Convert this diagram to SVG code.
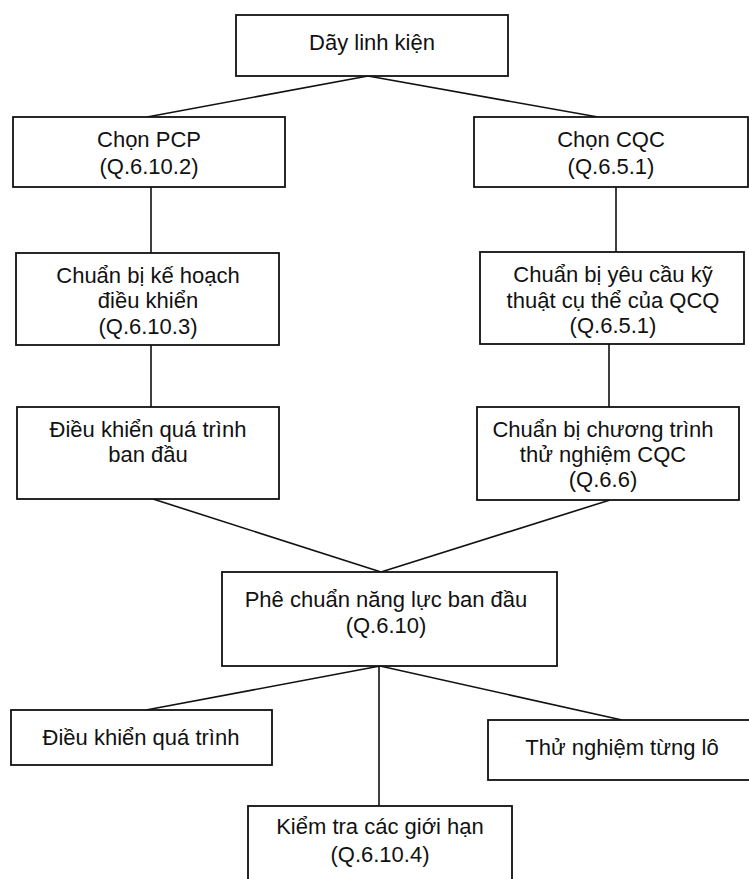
<svg xmlns="http://www.w3.org/2000/svg" width="749" height="879" viewBox="0 0 749 879">
<style>
.box{fill:#fff;stroke:#111;stroke-width:1.8}
.t{font-family:"Liberation Sans",Arial,sans-serif;font-size:22px;fill:#111;text-anchor:middle}
.c{stroke:#111;stroke-width:1.6;fill:none}
</style>
<rect width="749" height="879" fill="#fff"/>
<g id="connectors">
<path class="c" d="M368 76L147 117M368 76L598 117"/>
<path class="c" d="M151 187V253M151 345V407"/>
<path class="c" d="M616 187V252M609 344V407"/>
<path class="c" d="M153 499L381 572M610 500L381 572"/>
<path class="c" d="M380 666L146 710M380 666L622 720M379 666V806"/>
</g>
<g id="n1"><rect class="box" x="236" y="15" width="272" height="61"/><text class="t" x="372" y="50">Dãy linh kiện</text></g>
<g id="n2"><rect class="box" x="13" y="117" width="272" height="70"/><text class="t" x="149" y="147">Chọn PCP</text><text class="t" x="149" y="174">(Q.6.10.2)</text></g>
<g id="n3"><rect class="box" x="474" y="117" width="274" height="70"/><text class="t" x="611" y="147">Chọn CQC</text><text class="t" x="611" y="174">(Q.6.5.1)</text></g>
<g id="n4"><rect class="box" x="16" y="253" width="263" height="92"/><text class="t" x="148" y="283">Chuẩn bị kế hoạch</text><text class="t" x="148" y="308">điều khiển</text><text class="t" x="148" y="334">(Q.6.10.3)</text></g>
<g id="n5"><rect class="box" x="480" y="252" width="264" height="92"/><text class="t" x="613" y="282">Chuẩn bị yêu cầu kỹ</text><text class="t" x="613" y="308">thuật cụ thể của QCQ</text><text class="t" x="613" y="333">(Q.6.5.1)</text></g>
<g id="n6"><rect class="box" x="17" y="407" width="262" height="92"/><text class="t" x="148" y="437">Điều khiển quá trình</text><text class="t" x="148" y="462">ban đầu</text></g>
<g id="n7"><rect class="box" x="477" y="407" width="262" height="93"/><text class="t" x="603" y="437">Chuẩn bị chương trình</text><text class="t" x="603" y="462">thử nghiệm CQC</text><text class="t" x="603" y="487">(Q.6.6)</text></g>
<g id="n8"><rect class="box" x="222" y="572" width="335" height="94"/><text class="t" x="386" y="607">Phê chuẩn năng lực ban đầu</text><text class="t" x="386" y="633">(Q.6.10)</text></g>
<g id="n9"><rect class="box" x="11" y="710" width="261" height="55"/><text class="t" x="141" y="745">Điều khiển quá trình</text></g>
<g id="n10"><rect class="box" x="488" y="720" width="263" height="60"/><text class="t" x="622" y="755">Thử nghiệm từng lô</text></g>
<g id="n11"><rect class="box" x="248" y="806" width="264" height="80"/><text class="t" x="380" y="834">Kiểm tra các giới hạn</text><text class="t" x="380" y="862">(Q.6.10.4)</text></g>
</svg>
